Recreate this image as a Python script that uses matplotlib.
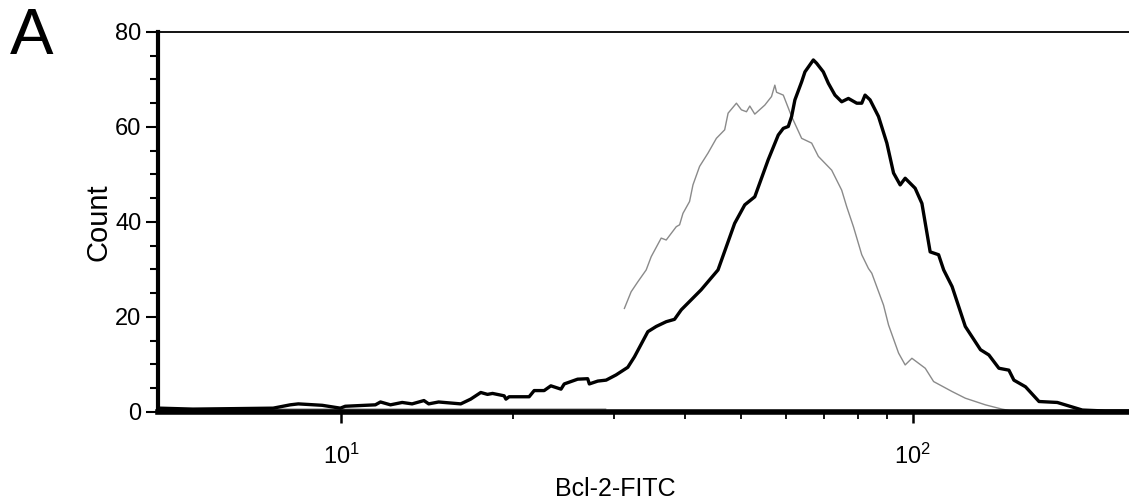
import numpy as np
import matplotlib
matplotlib.use("Agg")
import matplotlib.pyplot as plt
from matplotlib.ticker import FixedLocator, NullFormatter, MultipleLocator

plt.rcParams["font.family"] = ["Liberation Sans", "DejaVu Sans"]

# Bcl-2-FITC stained sample (thick black trace)
bcl2_x = [4.81, 5.5, 6.5, 7.60, 8.14, 8.41, 9.26, 9.96, 10.16, 11.47, 11.71, 12.19,
          12.78, 13.30, 13.95, 14.22, 14.80, 16.18, 16.84, 17.54, 18.02, 18.39, 19.27,
          19.41, 19.66, 21.31, 21.75, 22.64, 23.26, 24.23, 24.55, 25.91, 26.98, 27.16,
          28.10, 29.06, 30.25, 31.71, 32.57, 34.38, 35.56, 37.02, 38.28, 39.33, 42.6,
          45.61, 48.77, 50.80, 52.89, 55.83, 58.14, 59.33, 60.53, 61.35, 62.17, 63.88,
          64.74, 66.96, 67.86, 69.70, 71.13, 73.06, 75.06, 77.12, 79.76, 81.38, 82.47,
          84.15, 87.06, 90.04, 92.50, 95.00, 96.94, 100.9, 103.7, 107.2, 110.9, 113.2,
          117.1, 123.5, 131.3, 135.8, 141.4, 147.2, 150.2, 157.4, 166.2, 178.9, 197.9,
          217.2, 245.0]
bcl2_count = [0.8, 0.6, 0.7, 0.8, 1.5, 1.7, 1.4, 0.8, 1.2, 1.5, 2.1, 1.5,
              2.0, 1.7, 2.4, 1.7, 2.1, 1.7, 2.7, 4.1, 3.7, 3.9, 3.4,
              2.7, 3.2, 3.2, 4.5, 4.5, 5.5, 4.8, 5.9, 6.9, 7.0, 5.9,
              6.5, 6.7, 7.8, 9.4, 11.6, 16.9, 18.0, 19.0, 19.5, 21.5, 25.7,
              29.9, 39.7, 43.6, 45.3, 53.1, 58.3, 59.7, 60.1, 62.2, 65.7, 69.5,
              71.6, 74.1, 73.4, 71.6, 69.2, 66.7, 65.3, 66.0, 65.0, 65.0, 66.7,
              65.7, 62.2, 56.6, 50.3, 47.8, 49.2, 47.1, 43.9, 33.7, 33.1, 29.9,
              26.4, 18.0, 13.1, 12.0, 9.2, 8.8, 6.7, 5.3, 2.2, 2.0, 0.4,
              0.2, 0.2]

# control sample (thin grey trace)
control_x = [4.81, 10.0, 20.0, 29.0, 30.0,
             31.28, 32.14, 33.02, 34.15, 34.85, 36.28, 37.02, 38.55, 39.07, 39.60,
             40.67, 41.23, 42.35, 43.81, 45.31, 46.85, 47.50, 49.12, 50.12, 51.15,
             51.84, 52.89, 55.07, 56.58, 57.34, 57.74, 59.33, 61.35, 63.88, 66.51,
             68.33, 72.10, 75.06, 76.60, 78.70, 81.38, 83.61, 84.74, 88.84, 90.66,
             94.39, 96.94, 99.6, 105.1, 108.7, 117.1, 123.5, 133.9, 143.2, 149.0,
             245.0]
control_count = [0.6, 0.6, 0.6, 0.6, np.nan,
                 21.8, 25.3, 27.4, 29.9, 32.7, 36.6, 36.2, 39.0, 39.4, 41.8,
                 44.3, 47.8, 51.7, 54.5, 57.6, 59.4, 62.9, 65.0, 63.6, 63.2,
                 64.4, 62.7, 64.6, 66.4, 68.8, 67.3, 66.7, 62.2, 57.6, 56.6,
                 53.8, 50.9, 46.7, 43.2, 39.0, 33.1, 30.2, 29.2, 22.5, 18.3,
                 12.4, 9.9, 11.3, 9.2, 6.4, 4.3, 2.9, 1.5, 0.6, 0.2,
                 0.2]

x_minor = [20, 30, 40, 50, 60, 70, 80, 90]

fig = plt.figure(figsize=(11.29, 5.03), dpi=100)
ax = fig.add_axes([0.140, 0.181, 0.862, 0.7555])

ax.plot(control_x, control_count, color="#8a8a8a", linewidth=1.0, zorder=2)
ax.plot(bcl2_x, bcl2_count, color="black", linewidth=2.4, zorder=3)

ax.set_xscale("log")
ax.set_xlim(4.78, 241)
ax.set_ylim(0, 80)
ax.xaxis.set_minor_locator(FixedLocator(x_minor))
ax.xaxis.set_minor_formatter(NullFormatter())
ax.set_xticks([10, 100])
ax.yaxis.set_major_locator(MultipleLocator(20))
ax.yaxis.set_minor_locator(MultipleLocator(5))

ax.spines["right"].set_visible(False)
ax.spines["bottom"].set_linewidth(4.0)
ax.spines["left"].set_linewidth(3.0)
ax.spines["top"].set_linewidth(1.3)

ax.tick_params(axis="y", which="major", length=9, width=1.5, labelsize=17, pad=3)
ax.tick_params(axis="y", which="minor", length=6, width=1.5)
ax.tick_params(axis="x", which="major", length=8, width=1.8, labelsize=17, pad=15)
ax.tick_params(axis="x", which="minor", length=5, width=1.3)

ax.set_ylabel("Count", fontsize=21, labelpad=2)
ax.set_xlabel("Bcl-2-FITC", fontsize=18)
ax.xaxis.set_label_coords(0.47, -0.172)

fig.text(0.009, 0.892, "A", fontsize=47)

fig.savefig("out.png", dpi=100)
